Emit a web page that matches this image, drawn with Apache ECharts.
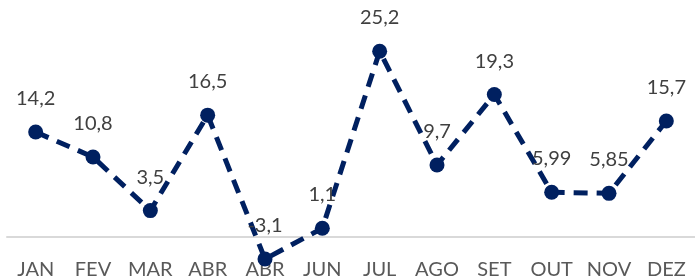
<!DOCTYPE html>
<html>
<head>
<meta charset="utf-8">
<script src="https://cdn.jsdelivr.net/npm/echarts@6/dist/echarts.min.js"></script>
<style>
  html, body { margin: 0; padding: 0; background: #fff; }
  #chart { width: 695px; height: 279px; }
</style>
</head>
<body>
<div id="chart"></div>
<script>
// data
const months = ["JAN", "FEV", "MAR", "ABR", "ABR", "JUN", "JUL", "AGO", "SET", "OUT", "NOV", "DEZ"];
const values = [14.2, 10.8, 3.5, 16.5, -3.1, 1.1, 25.2, 9.7, 19.3, 5.99, 5.85, 15.7];

const NAVY = "#002060";
const chart = echarts.init(document.getElementById("chart"), null, { renderer: "canvas" });

chart.setOption({
    animation: false,
    grid: { left: 7, right: 0, top: 16, bottom: 6, containLabel: false, outerBoundsMode: "none" },
    xAxis: {
        type: "category",
        data: months,
        boundaryGap: true,
        axisLine: { onZero: true, lineStyle: { color: "#d9d9d9", width: 2 } },
        axisTick: { show: false },
        // labels sit at the grid bottom, not at the zero line, so pull them up
        axisLabel: { interval: 0, color: "#595959", fontSize: 20, fontFamily: "Lato", margin: -13 }
    },
    yAxis: {
        type: "value",
        min: -5,
        max: 30,
        show: false,
        splitLine: { show: false }
    },
    series: [{
        type: "line",
        data: values,
        symbol: "circle",
        symbolSize: 15,
        itemStyle: { color: NAVY },
        lineStyle: { color: NAVY, width: 5, type: [14, 9] },
        label: {
            show: true,
            position: "top",
            distance: 16,
            color: "#404040",
            fontSize: 20,
            fontFamily: "Lato",
            formatter: p => String(p.value).replace(".", ",")
        }
    }]
});
</script>
</body>
</html>
